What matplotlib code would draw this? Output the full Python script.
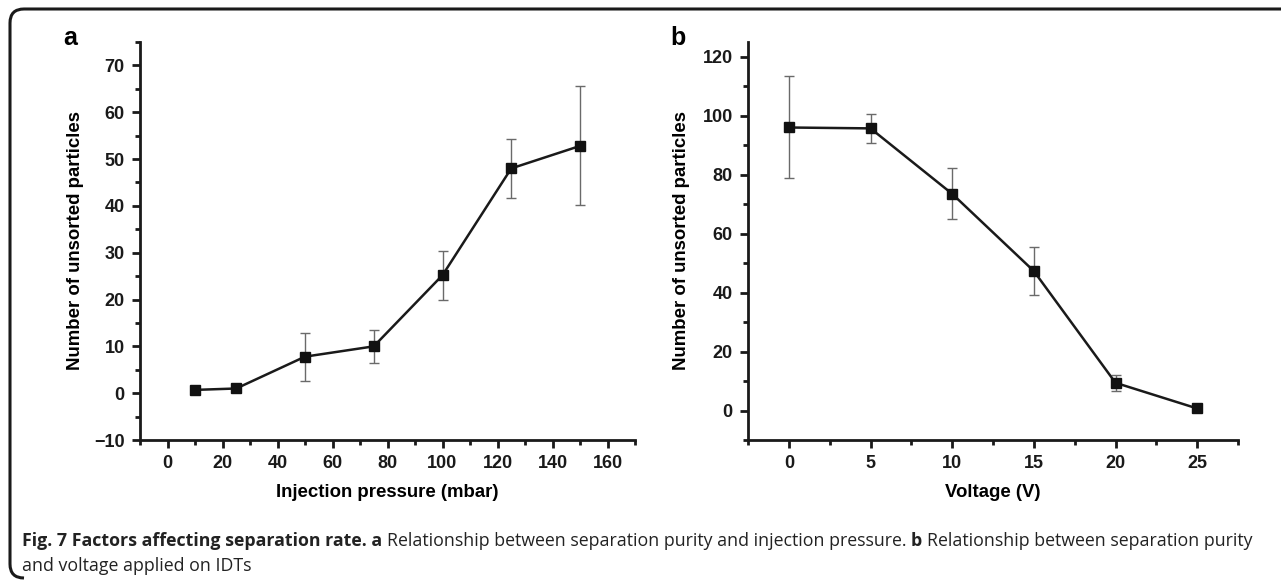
import matplotlib
matplotlib.use("Agg")
import matplotlib.pyplot as plt
from matplotlib.path import Path
from matplotlib.patches import PathPatch
from matplotlib.ticker import MultipleLocator

# panel a: injection pressure
pressure = [10, 25, 50, 75, 100, 125, 150]
unsorted_a = [0.7, 1.0, 7.8, 10.0, 25.2, 48.0, 52.8]
err_a = [0.0, 0.0, 5.1, 3.5, 5.2, 6.3, 12.7]

# panel b: voltage
voltage = [0, 5, 10, 15, 20, 25]
unsorted_b = [96.0, 95.7, 73.5, 47.3, 9.4, 0.7]
err_b = [17.3, 5.0, 8.7, 8.2, 2.8, 0.0]

plt.rcParams["font.family"] = ["Liberation Sans", "DejaVu Sans"]

W, H = 1281, 583
fig = plt.figure(figsize=(W / 100, H / 100), dpi=100)


def box(x0, y0, x1, y1):
    # pixel coords (top-left origin) -> figure fraction rect
    return [x0 / W, 1 - y1 / H, (x1 - x0) / W, (y1 - y0) / H]


def style_axes(ax):
    for s in ["top", "right"]:
        ax.spines[s].set_visible(False)
    for s in ["left", "bottom"]:
        ax.spines[s].set_linewidth(2.0)
        ax.spines[s].set_color("#1a1a1a")
    ax.tick_params(which="major", direction="out", length=6, width=2, color="#1a1a1a",
                   labelsize=13, pad=5)
    ax.tick_params(which="minor", direction="out", length=3.5, width=2, color="#1a1a1a")
    for lab in ax.get_xticklabels() + ax.get_yticklabels():
        lab.set_fontweight("bold")
        lab.set_color("#1a1a1a")


def draw(ax, x, y, e):
    ax.errorbar(x, y, yerr=e, fmt="none", ecolor="#6a6a6a", elinewidth=1.0,
                capsize=3.5, capthick=1.0, zorder=2)
    ax.plot(x, y, color="#1a1a1a", lw=1.8, marker="s", ms=6.5, mfc="#111111",
            mec="#111111", zorder=3)


ax1 = fig.add_axes(box(140, 42, 635, 440))
draw(ax1, pressure, unsorted_a, err_a)
ax1.set_xlim(-10, 170)
ax1.set_ylim(-10, 75)
ax1.xaxis.set_minor_locator(MultipleLocator(10))
ax1.yaxis.set_minor_locator(MultipleLocator(5))
ax1.set_xticks([0, 20, 40, 60, 80, 100, 120, 140, 160])
ax1.set_yticks([-10, 0, 10, 20, 30, 40, 50, 60, 70])
ax1.set_yticklabels(["\u221210", "0", "10", "20", "30", "40", "50", "60", "70"])
style_axes(ax1)
ax1.set_xlabel("Injection pressure (mbar)", fontsize=13.4, fontweight="bold")
ax1.set_ylabel("Number of unsorted particles", fontsize=13.4, fontweight="bold")
ax1.xaxis.set_label_coords(0.5, -0.11)
ax1.yaxis.set_label_coords(-0.113, 0.5)

ax2 = fig.add_axes(box(748, 42, 1238, 440))
draw(ax2, voltage, unsorted_b, err_b)
ax2.set_xlim(-2.5, 27.5)
ax2.set_ylim(-10, 125)
ax2.xaxis.set_minor_locator(MultipleLocator(2.5))
ax2.yaxis.set_minor_locator(MultipleLocator(10))
ax2.set_xticks([0, 5, 10, 15, 20, 25])
ax2.set_yticks([0, 20, 40, 60, 80, 100, 120])
style_axes(ax2)
ax2.set_xlabel("Voltage (V)", fontsize=13.4, fontweight="bold")
ax2.set_ylabel("Number of unsorted particles", fontsize=13.4, fontweight="bold")
ax2.xaxis.set_label_coords(0.5, -0.11)
ax2.yaxis.set_label_coords(-0.118, 0.5)

fig.text(70 / W, 1 - 38 / H, "a", fontsize=18, fontweight="bold", ha="center", va="center")
fig.text(678 / W, 1 - 38 / H, "b", fontsize=18, fontweight="bold", ha="center", va="center")

# frame: top line and left side with rounded corners
r = 14
verts = [(W + 5, 9), (10 + r, 9), (10, 9), (10, 9 + r), (10, 578 - r), (10, 578), (10 + r, 578)]
codes = [Path.MOVETO, Path.LINETO, Path.CURVE3, Path.CURVE3, Path.LINETO, Path.CURVE3, Path.CURVE3]
verts = [(x / W, 1 - y / H) for x, y in verts]
fig.patches.append(PathPatch(Path(verts, codes), transform=fig.transFigure, fill=False,
                             lw=2.2, edgecolor="#1a1a1a"))

# caption with mixed bold / regular pieces
cap_font = ["Open Sans", "DejaVu Sans"]
cap_size = 12.8
fig.canvas.draw()
renderer = fig.canvas.get_renderer()


def write_line(pieces, x_px, y_px):
    x = x_px
    for txt, bold in pieces:
        t = fig.text(x / W, 1 - y_px / H, txt, fontsize=cap_size, family=cap_font,
                     fontweight="bold" if bold else "normal", va="baseline", ha="left",
                     color="#222222")
        bb = t.get_window_extent(renderer)
        x += bb.width


write_line([("Fig. 7 Factors affecting separation rate. a ", True),
            ("Relationship between separation purity and injection pressure. ", False),
            ("b ", True),
            ("Relationship between separation purity", False)], 22, 546)
write_line([("and voltage applied on IDTs", False)], 22, 571)

fig.savefig("out.png", dpi=100)
